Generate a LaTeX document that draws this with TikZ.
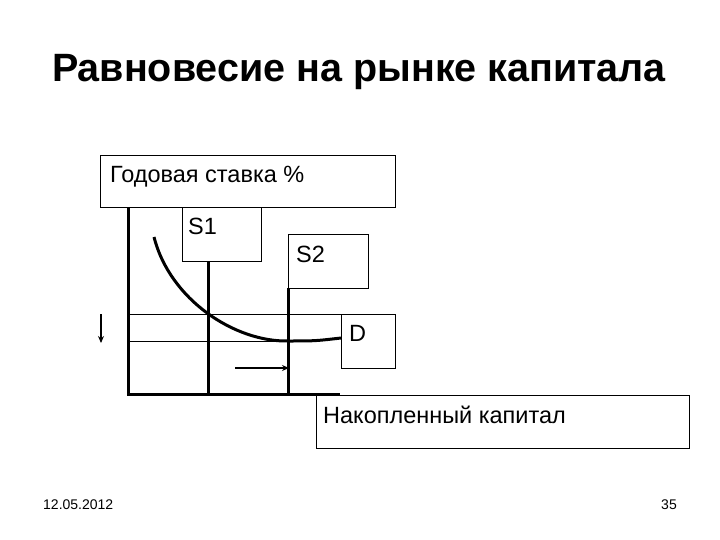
\documentclass[tikz,border=0pt]{standalone}
\usepackage{fontspec}
\setmainfont{Liberation Sans}
\usetikzlibrary{arrows.meta}
\begin{document}
\begin{tikzpicture}[x=1pt,y=-1pt,
  box/.style={draw=black,line width=1pt,anchor=north west,inner sep=0pt},
  lbl/.style={anchor=base west,inner sep=0pt,font=\fontsize{23.5}{28}\selectfont},
  thickln/.style={line width=3pt},
  thinln/.style={line width=0.8pt},
  arr/.style={line width=2pt,-{Stealth[length=7pt,width=6pt]}}]
\useasboundingbox (0,0) rectangle (720,540);
\node[anchor=base,inner sep=0pt,font=\fontsize{39.5}{46}\bfseries] (title) at (359,82) {Равновесие на рынке капитала};
% boxes
\node[box,minimum width=295pt,minimum height=52pt] (ybox) at (100,155) {};
\node[lbl] (ytxt) at (110,183) {Годовая ставка \%};
\node[box,minimum width=79pt,minimum height=54pt] (s1) at (182,207) {};
\node[lbl] (s1t) at (188,234) {S1};
\node[box,minimum width=80pt,minimum height=54pt] (s2) at (288,234) {};
\node[lbl] (s2t) at (296,262) {S2};
\node[box,minimum width=54pt,minimum height=54pt] (d) at (341,314) {};
\node[lbl] (dt) at (349,341) {D};
\node[box,minimum width=373pt,minimum height=53pt] (xbox) at (316,395) {};
\node[lbl] (xt) at (323,423) {Накопленный капитал};
% axes
\coordinate (o) at (128,394);
\coordinate (ytop) at (128,207);
\coordinate (xend) at (340,394);
\draw[thickln] (ytop) -- (o) -- (xend);
% supply lines
\coordinate (s1b) at (208,261);
\coordinate (s1f) at (208,394);
\coordinate (s2b) at (288,288);
\coordinate (s2f) at (288,394);
\draw[thickln] (s1b) -- (s1f);
\draw[thickln] (s2b) -- (s2f);
% horizontal thin lines
\coordinate (h1a) at (128,314);
\coordinate (h1b) at (341,314);
\coordinate (h2a) at (128,341);
\coordinate (h2b) at (288,341);
\draw[thinln] (h1a) -- (h1b);
\draw[thinln] (h2a) -- (h2b);
% demand curve
\coordinate (c0) at (154,237);
\coordinate (c1) at (288,341);
\coordinate (c2) at (341,338);
\draw[thickln] (c0) .. controls (170,300) and (235,342) .. (c1) .. controls (315,341) .. (c2);
% arrows
\coordinate (da) at (101,314);
\coordinate (db) at (101,343);
\draw[arr] (da) -- (db);
\coordinate (ra) at (235,368);
\coordinate (rb) at (289,368);
\draw[arr] (ra) -- (rb);
% footer
\node[anchor=base west,inner sep=0pt,font=\fontsize{14}{16}\selectfont] (date) at (43,509) {12.05.2012};
\node[anchor=base east,inner sep=0pt,font=\fontsize{14}{16}\selectfont] (page) at (677,509) {35};
\end{tikzpicture}
\end{document}
